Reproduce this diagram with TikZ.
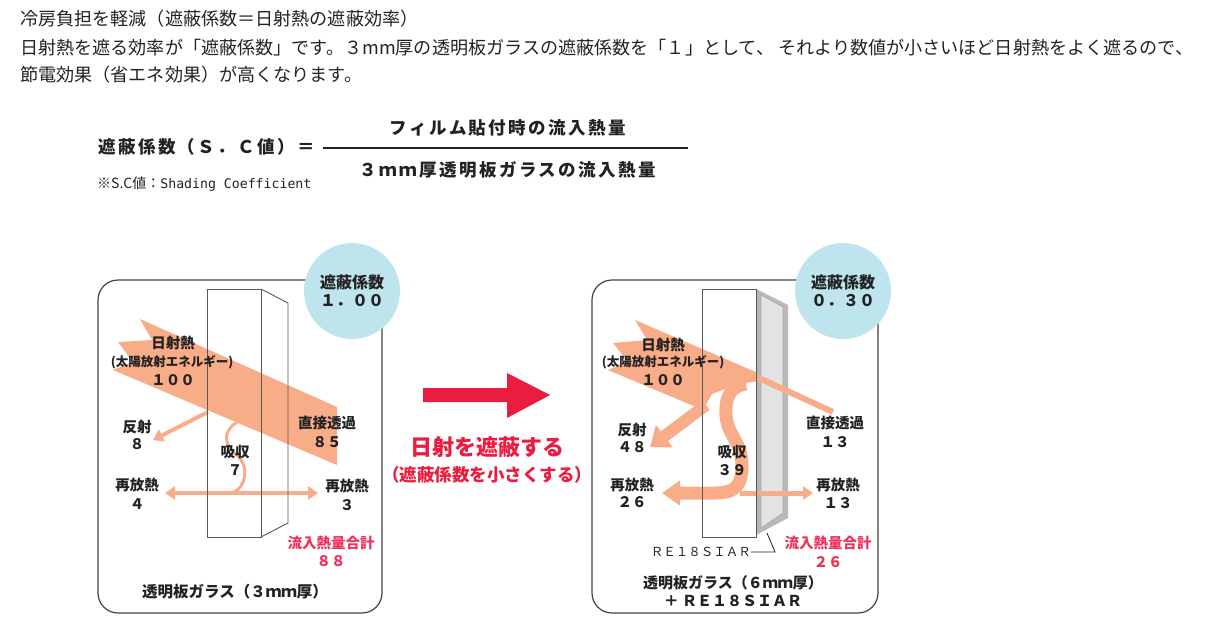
\documentclass[tikz,border=0pt]{standalone}
\usepackage{fontspec}
\newfontfamily\jp{Noto Sans CJK JP}
\newfontfamily\jpsp[LetterSpace=14]{Noto Sans CJK JP}
\newfontfamily\monof{DejaVu Sans Mono}
\usetikzlibrary{arrows.meta}
\definecolor{salmon}{RGB}{249,172,136}
\definecolor{sky}{RGB}{190,228,238}
\definecolor{sred}{RGB}{236,28,64}
\definecolor{pred}{RGB}{240,48,90}
\definecolor{ink}{RGB}{34,34,34}

\begin{document}
\begin{tikzpicture}[x=1pt,y=-1pt,
  txt/.style={font=\jp\fontsize{18.1}{20}\selectfont,text=ink,inner sep=0pt,anchor=west},
  frm/.style={font=\jpsp\bfseries\fontsize{17.5}{19}\selectfont,text=ink,inner sep=0pt},
  lbl/.style={font=\jp\bfseries\fontsize{14.5}{16}\selectfont,text=ink,inner sep=0pt},
  small/.style={font=\jp\bfseries\fontsize{12.5}{14}\selectfont,text=ink,inner sep=0pt},
  redlbl/.style={lbl,text=pred},
  circ/.style={font=\jp\bfseries\fontsize{16}{18}\selectfont,text=ink,inner sep=0pt},
  panel/.style={draw=ink!85,line width=1.2pt,rounded corners=20pt},
  glass/.style={draw=ink!75,line width=0.9pt},
  ray/.style={draw=salmon,line width=#1},
  tip/.style args={#1/#2}{-{Triangle[length=#1,width=#2]}}]
\useasboundingbox (0,0) rectangle (1210,637);

% intro
\node[txt] (l1) at (20,18.5) {冷房負担を軽減（遮蔽係数＝日射熱の遮蔽効率）};
\node[txt] (l2) at (20,48) {日射熱を遮る効率が「遮蔽係数」です。３mm厚の透明板ガラスの遮蔽係数を「１」として、 それより数値が小さいほど日射熱をよく遮るので、};
\node[txt] (l3) at (20,74.5) {節電効果（省エネ効果）が高くなります。};

% formula
\node[frm,anchor=west] (sc) at (98,147) {遮蔽係数（Ｓ．Ｃ値）＝};
\node[frm] (numer) at (508,128) {フィルム貼付時の流入熱量};
\node[frm] (denom) at (508,170) {３ｍｍ厚透明板ガラスの流入熱量};
\draw[line width=1.2pt,ink] (323,148) -- (688,148);
\node[anchor=west,inner sep=0pt,text=ink,font=\jp\fontsize{14}{15}\selectfont] (note) at (97,184) {※S.C値：{\monof\fontsize{13.2}{15}\selectfont Shading Coefficient}};

% left panel
\draw[panel] (98,280) rectangle (382,613);
\fill[salmon] (140,319) -- (152,340) -- (118,342) -- (133,362) -- (113,370) -- (337,465) -- (337,407) -- cycle;
\draw[ray=4pt,tip=10pt/13pt] (208,412) -- (153,440);
\draw[ray=3pt] (237,422) .. controls (222,432) and (224,445) .. (237,455) .. controls (250,467) and (246,488) .. (232,493);
\draw[ray=3.5pt,{Triangle[length=10pt,width=13pt]}-{Triangle[length=10pt,width=13pt]}] (165,493) -- (318,493);
\draw[glass] (207,289) rectangle (261,537);
\draw[glass] (261,289) -- (288,303) -- (288,523) -- (261,537);
\fill[sky] (352,291) circle (48);
\node[circ] (scL) at (352,282) {遮蔽係数};
\node[circ] (vL) at (352,301) {１．００};

\node[lbl] (sunL) at (173,343) {日射熱};
\node[small] (sunLb) at (172,362) {(太陽放射エネルギー)};
\node[lbl] (sunLn) at (173,380) {１００};
\node[lbl] (refL) at (137,427) {反射};
\node[lbl] (refLn) at (137,444) {８};
\node[lbl] (absL) at (235,452) {吸収};
\node[lbl] (absLn) at (235,470) {７};
\node[lbl] (trL) at (327,423) {直接透過};
\node[lbl] (trLn) at (327,442) {８５};
\node[lbl] (reL) at (137,485) {再放熱};
\node[lbl] (reLn) at (137,504) {４};
\node[lbl] (reL2) at (347,486) {再放熱};
\node[lbl] (reLn2) at (347,505) {３};
\node[redlbl] (sumL) at (331,543) {流入熱量合計};
\node[redlbl] (sumLn) at (331,561) {８８};
\node[lbl,font=\jp\bfseries\fontsize{15.5}{17}\selectfont] (glL) at (235,592) {透明板ガラス（３ｍｍ厚）};

% middle arrow
\fill[sred] (423,388) -- (507,388) -- (507,373) -- (550,395) -- (507,418) -- (507,402) -- (423,402) -- cycle;
\node[font=\jp\bfseries\fontsize{22}{24}\selectfont,text=sred,inner sep=0pt] (shade) at (487,447) {日射を遮蔽する};
\node[font=\jp\bfseries\fontsize{17.5}{19}\selectfont,text=sred,inner sep=0pt] (shade2) at (487,475) {（遮蔽係数を小さくする）};

% right panel
\draw[panel] (592,280) rectangle (878,613);
\fill[gray!55] (756,289) -- (788,305) -- (788,518) -- (756,535) -- cycle;
\filldraw[fill=gray!22,draw=gray!70,line width=0.6pt] (761,295) -- (783,307) -- (783,513) -- (761,528) -- cycle;
\fill[salmon] (635,320) -- (647,340) -- (613,343) -- (628,362) -- (608,370) -- (703,410) -- (712,394) -- (735,385) -- (758,381) -- (758,373) -- cycle;
\draw[ray=6pt] (750,374) -- (833,412);
\draw[ray=12pt,tip=18pt/27pt] (706,405) -- (650,447);
\draw[ray=13pt,tip=18pt/24pt] (746,384) .. controls (730,386) and (725,398) .. (726,415) .. controls (727,435) and (742,442) .. (742,465) .. controls (742,485) and (736,493) .. (715,493) -- (662,493);
\draw[ray=5pt,tip=10pt/13pt] (740,493) -- (813,493);
\draw[glass] (702,289) rectangle (756,537);
\draw[gray!60,line width=1pt] (758.5,290) -- (758.5,534);
\fill[sky] (843,291) circle (48);
\node[circ] (scR) at (843,282) {遮蔽係数};
\node[circ] (vR) at (843,301) {０．３０};

\node[lbl] (sunR) at (663,345) {日射熱};
\node[small] (sunRb) at (663,362) {(太陽放射エネルギー)};
\node[lbl] (sunRn) at (663,380) {１００};
\node[lbl] (refR) at (632,430) {反射};
\node[lbl] (refRn) at (632,447) {４８};
\node[lbl] (absR) at (732,452) {吸収};
\node[lbl] (absRn) at (732,470) {３９};
\node[lbl] (trR) at (835,423) {直接透過};
\node[lbl] (trRn) at (835,442) {１３};
\node[lbl] (reR) at (632,485) {再放熱};
\node[lbl] (reRn) at (632,502) {２６};
\node[lbl] (reR2) at (838,485) {再放熱};
\node[lbl] (reRn2) at (838,503) {１３};
\node[redlbl] (sumR) at (828,543) {流入熱量合計};
\node[redlbl] (sumRn) at (828,562) {２６};
\node[font=\jp\fontsize{12.5}{14}\selectfont,text=ink,inner sep=0pt,anchor=east] (film) at (751,552) {ＲＥ１８ＳＩＡＲ};
\coordinate (filmEnd) at (767,533);
\draw[ink,line width=0.8pt] (film.east) -- ++(24,0) -- (filmEnd);
\node[lbl,font=\jp\bfseries\fontsize{15}{17}\selectfont] (glR) at (733,583) {透明板ガラス（６ｍｍ厚）};
\node[lbl,font=\jp\bfseries\fontsize{15}{17}\selectfont] (glR2) at (733,601) {＋ ＲＥ１８ＳＩＡＲ};
\end{tikzpicture}
\end{document}
